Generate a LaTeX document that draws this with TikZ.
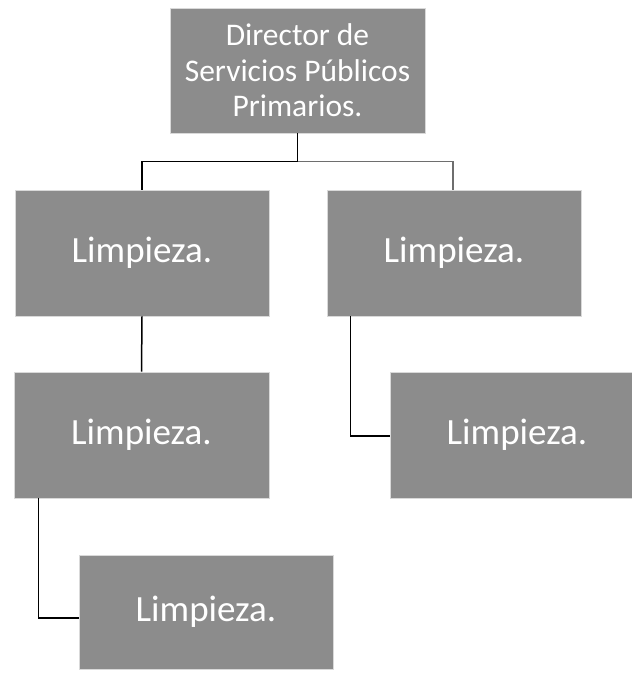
\documentclass[tikz,border=0pt]{standalone}
\usepackage{fontspec}
\setmainfont{Carlito}
\usetikzlibrary{calc}
\definecolor{boxgray}{HTML}{8C8C8C}
\definecolor{linegray}{HTML}{6E6E6E}
\begin{document}
\begin{tikzpicture}[x=1pt,y=-1pt,
  orgbox/.style={rectangle, fill=boxgray, draw=white!85!black, line width=0.8pt, inner sep=0pt, text=white, align=center},
  small/.style={font=\fontsize{31.5}{35.5}\selectfont},
  big/.style={font=\fontsize{37}{42}\selectfont},
  conn/.style={line width=1.5pt, draw=black}]
\useasboundingbox[fill=white] (0,0) rectangle (631,679);
\node[orgbox, small, minimum width=255pt, minimum height=125pt] (top) at (297.5,70.5) {Director de\\Servicios Públicos\\Primarios.};
\node[orgbox, big, minimum width=254pt, minimum height=126pt] (l1) at (142,253) {Limpieza.};
\node[orgbox, big, minimum width=254pt, minimum height=126pt] (r1) at (454,253) {Limpieza.};
\node[orgbox, big, minimum width=255pt, minimum height=126pt] (l2) at (141.5,435) {Limpieza.};
\node[orgbox, big, minimum width=254pt, minimum height=126pt] (r2) at (517,435) {Limpieza.};
\node[orgbox, big, minimum width=254pt, minimum height=114pt] (b) at (206,612) {Limpieza.};
\coordinate (hub) at ($(top.south)+(0,28)$);
\draw[conn] (top.south) -- (hub) -| (l1.north);
\draw[conn, draw=linegray] (hub) -| ($(r1.north)+(-1,0)$);
\draw[conn] (l1.south) -- (l2.north);
\draw[conn] (r1.south west) ++(24,0) |- ($(r2.west)+(0,1)$);
\draw[conn] (l2.south west) ++(25,0) |- ($(b.west)+(0,6)$);
\end{tikzpicture}
\end{document}
